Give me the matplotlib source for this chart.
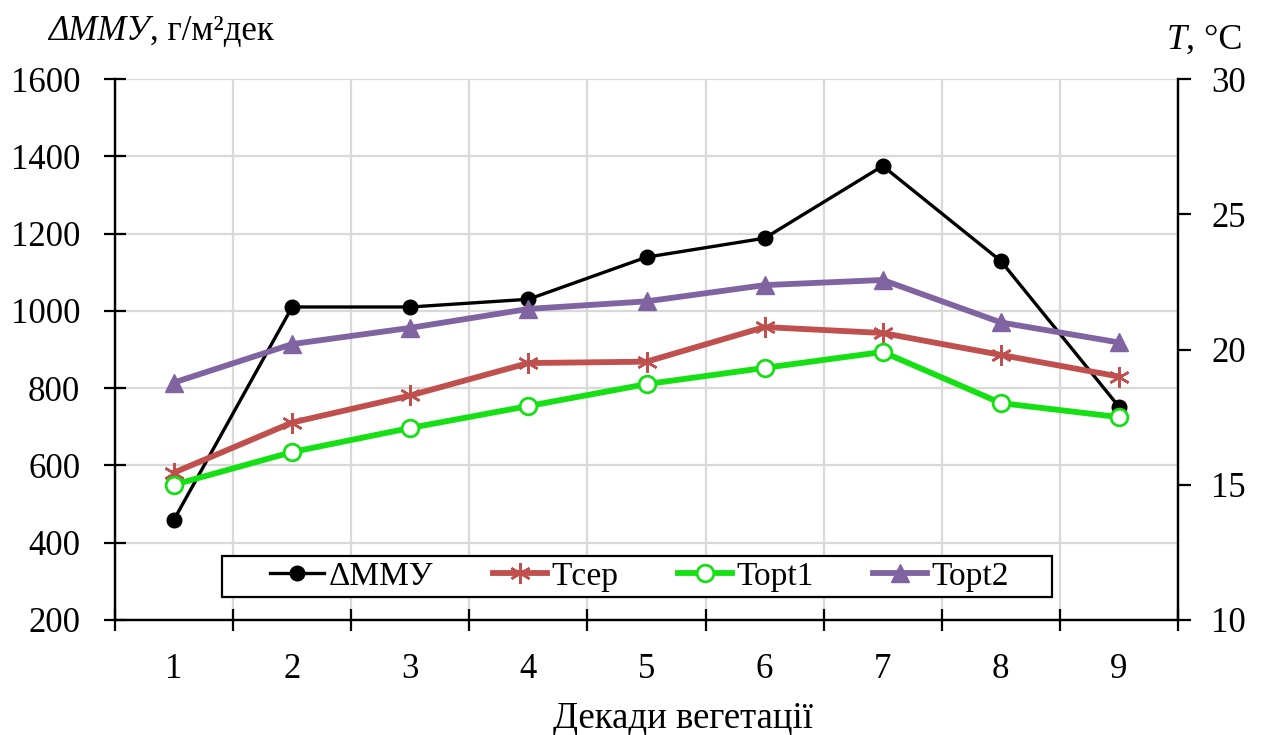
import numpy as np
import matplotlib
matplotlib.use("Agg")
import matplotlib.pyplot as plt
from matplotlib.patches import Rectangle

# Values
dekady = [1, 2, 3, 4, 5, 6, 7, 8, 9]
dmmu = [460, 1010, 1010, 1030, 1139, 1188, 1375, 1129, 752]
t_ser = [15.45, 17.3, 18.3, 19.5, 19.55, 20.83, 20.61, 19.8, 19.0]
t_opt1 = [15.0, 16.21, 17.1, 17.91, 18.72, 19.32, 19.91, 18.02, 17.5]
t_opt2 = [18.78, 20.2, 20.8, 21.5, 21.78, 22.38, 22.57, 21.0, 20.26]

left_ticks = [200, 400, 600, 800, 1000, 1200, 1400, 1600]
right_ticks = [10, 15, 20, 25, 30]

plt.rcParams['font.family'] = ['Liberation Serif', 'DejaVu Serif']
plt.rcParams['font.size'] = 25

fig = plt.figure(figsize=(12.65, 7.35), dpi=100)
ax = fig.add_axes([115 / 1265, 1 - 620 / 735, 1063 / 1265, 541 / 735])
ax2 = ax.twinx()

# grid
ax.set_xlim(0.5, 9.5)
ax.set_ylim(200, 1600)
ax.set_yticks(left_ticks)
ax.set_xticks(dekady)
ax.set_xticks(np.arange(0.5, 10, 1), minor=True)
ax.grid(True, which='major', axis='y', color='#d9d9d9', lw=1.6)
ax.grid(True, which='minor', axis='x', color='#d9d9d9', lw=1.6)
ax.set_axisbelow(True)

ax.plot(dekady, dmmu, color='black', lw=2.4, marker='o', ms=10.5, label='ΔММУ')

ax2.set_ylim(10, 30)
ax2.set_yticks(right_ticks)
l1, = ax2.plot(dekady, t_ser, color='#c0504d', lw=4.2, marker=(6, 2, 0), ms=15,
               mew=1.8, label='Tсер')
l2, = ax2.plot(dekady, t_opt1, color='#14e014', lw=4.2, marker='o', ms=12,
               mfc='white', mew=2, label='Topt1')
l3, = ax2.plot(dekady, t_opt2, color='#8064a2', lw=4.2, marker='^', ms=13,
               label='Topt2')

# spines and ticks
for a in (ax, ax2):
    a.spines['top'].set_visible(False)
    for s in ('left', 'right', 'bottom'):
        a.spines[s].set_linewidth(1.6)
        a.spines[s].set_color('black')

ax.tick_params(axis='x', which='major', length=0, pad=24, labelsize=25)
ax.tick_params(axis='x', which='minor', direction='inout', length=16, width=1.6)
ax.tick_params(axis='y', direction='inout', length=16, width=1.6, pad=17, labelsize=25)
ax2.tick_params(axis='y', direction='out', length=9, width=1.6, pad=15, labelsize=25)

# legend: white box with black frame, entries centred in it
box = Rectangle((0.1007, 0.0425), 0.7808, 0.0758, transform=ax2.transAxes,
                facecolor='white', edgecolor='black', lw=1.6, zorder=5)
ax2.add_patch(box)
h0 = ax.get_lines()[0]
leg = ax2.legend([h0, l1, l2, l3], ['ΔММУ', 'Tсер', 'Topt1', 'Topt2'],
                 loc='center', bbox_to_anchor=(0.4935, 0.0804), ncol=4,
                 frameon=False, fontsize=24, handlelength=1.62,
                 handletextpad=0.12, columnspacing=1.8, borderpad=0)
leg.set_zorder(6)

# axis titles
t1 = fig.text(48 / 1265, 1 - 40 / 735, 'ΔММУ', fontsize=25, style='italic', va='baseline')
ax.annotate(', г/м²дек', xy=(1, 0), xycoords=t1, fontsize=25, va='bottom')
t2 = fig.text(1243 / 1265, 1 - 49 / 735, ', °C', fontsize=26, ha='right', va='baseline')
ax.annotate('T', xy=(0, 0), xycoords=t2, fontsize=26, style='italic',
            ha='right', va='bottom')

fig.text(683 / 1265, 1 - 728 / 735, 'Декади вегетації', fontsize=26.5,
         ha='center', va='baseline')

fig.savefig('out.png', dpi=100)
